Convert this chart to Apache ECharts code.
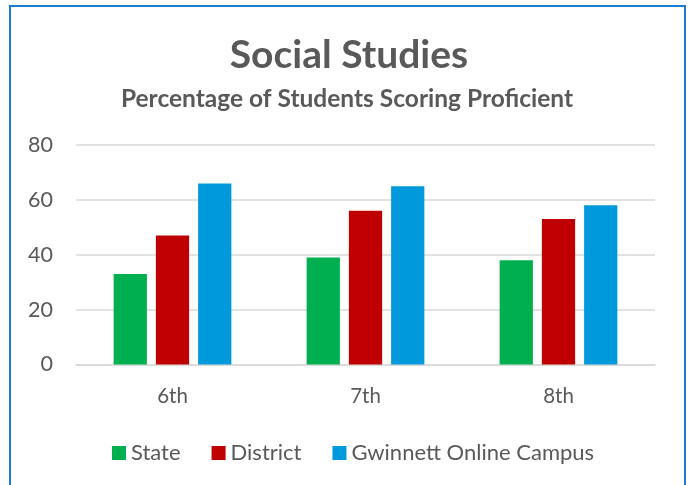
<!DOCTYPE html>
<html><head><meta charset="utf-8">
<script src="https://cdn.jsdelivr.net/npm/echarts@6/dist/echarts.min.js"></script>
<style>
html,body{margin:0;padding:0;background:#fff;}
#frame{position:absolute;left:9px;top:5px;width:677px;height:500px;border:2px solid #1b7bd3;border-bottom:none;box-sizing:border-box;}
#chart{position:absolute;left:0;top:0;width:692px;height:485px;}
</style></head>
<body>
<div id="frame"></div>
<div id="chart"></div>
<script>
const categories = ['6th', '7th', '8th'];
const seriesNames = ['State', 'District', 'Gwinnett Online Campus'];
const stateValues = [33, 39, 38];
const districtValues = [47, 56, 53];
const campusValues = [66, 65, 58];
const yTicks = [0, 20, 40, 60, 80];

const colors = ['#00b050', '#c00000', '#0099db'];
const font = 'Lato, "Open Sans", sans-serif';
const chart = echarts.init(document.getElementById('chart'), null, {renderer: 'canvas'});
chart.setOption({
  animation: false,
  title: [
    {text: 'Social Studies', left: 344, top: 31, textAlign: 'center',
     textStyle: {fontFamily: font, fontSize: 39, fontWeight: 'bold', color: '#595959'}},
    {text: 'Percentage of Students Scoring Proficient', left: 342, top: 82, textAlign: 'center',
     textStyle: {fontFamily: font, fontSize: 24.5, fontWeight: 'bold', color: '#595959'}}
  ],
  legend: {
    data: seriesNames, left: 107, top: 437, itemWidth: 14, itemHeight: 14, itemGap: 31,
    icon: 'rect',
    textStyle: {fontFamily: font, fontSize: 22, color: '#595959', padding: [0,0,0,0]}
  },
  grid: {left: 76, right: 37, top: 145, bottom: 120.5},
  xAxis: {
    type: 'category', data: categories,
    axisLine: {lineStyle: {color: '#d9d9d9', width: 1.5}},
    axisTick: {show: false},
    axisLabel: {fontFamily: font, fontSize: 20.5, color: '#595959', margin: 21}
  },
  yAxis: {
    type: 'value', min: yTicks[0], max: yTicks[yTicks.length-1], interval: 20,
    axisLine: {show: false}, axisTick: {show: false},
    splitLine: {lineStyle: {color: '#d9d9d9', width: 1.5}},
    axisLabel: {fontFamily: font, fontSize: 21.5, color: '#595959', margin: 23}
  },
  series: [
    {name: seriesNames[0], type: 'bar', data: stateValues, itemStyle: {color: colors[0]}, barGap: '27%', barCategoryGap: '39%'},
    {name: seriesNames[1], type: 'bar', data: districtValues, itemStyle: {color: colors[1]}},
    {name: seriesNames[2], type: 'bar', data: campusValues, itemStyle: {color: colors[2]}}
  ]
});
</script>
</body></html>
